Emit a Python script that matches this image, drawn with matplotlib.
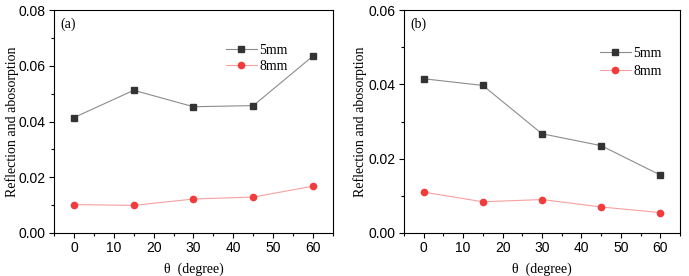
import matplotlib.pyplot as plt
from matplotlib.ticker import MultipleLocator

theta = [0, 15, 30, 45, 60]

a_5mm = [0.0414, 0.0512, 0.0453, 0.0457, 0.0635]
a_8mm = [0.0102, 0.0099, 0.0122, 0.0129, 0.0168]

b_5mm = [0.0415, 0.0397, 0.0267, 0.0235, 0.0156]
b_8mm = [0.0110, 0.0084, 0.0090, 0.0070, 0.0055]

panels = [("(a)", a_5mm, a_8mm, 0.08, (0.607, 0.862), 0.25, -0.125),
          ("(b)", b_5mm, b_8mm, 0.06, (0.700, 0.845), 0.33, -0.134)]

fig = plt.figure(figsize=(6.89, 2.76), dpi=100)
boxes = [[54/689, 43/276, 279/689, 223/276],
         [404/689, 43/276, 276/689, 223/276]]

serif = "Liberation Serif"

for box, (tag, s5, s8, ymax, leg_xy, leg_sp, ylab_x) in zip(boxes, panels):
    ax = fig.add_axes(box)
    ax.plot(theta, s5, color="#8c8c8c", lw=0.8, marker="s", ms=4,
            mfc="#333333", mec="#333333", label="5mm")
    ax.plot(theta, s8, color="#f7a0a0", lw=0.8, marker="o", ms=4.5,
            mfc="#f03c3c", mec="#f03c3c", label="8mm")
    ax.set_xlim(-5, 65)
    ax.xaxis.set_major_locator(MultipleLocator(10))
    ax.xaxis.set_minor_locator(MultipleLocator(5))
    yt = [i * 0.02 for i in range(int(round(ymax / 0.02)) + 1)]
    ax.set_yticks(yt)
    ax.set_yticklabels(["%.2f" % v for v in yt])
    ax.yaxis.set_minor_locator(MultipleLocator(0.01))
    ax.set_ylim(0, ymax)
    ax.tick_params(which="major", direction="out", length=3.5, width=0.8,
                   labelsize=10, pad=2.5)
    ax.tick_params(which="minor", direction="out", length=2, width=0.8)
    for lab in ax.get_xticklabels() + ax.get_yticklabels():
        lab.set_fontfamily("Liberation Sans")
    for sp in ax.spines.values():
        sp.set_linewidth(0.8)
    ax.set_xlabel("\u03b8  (degree)", family=serif, fontsize=10, labelpad=5)
    ax.set_ylabel("Reflection and abosorption", family=serif, fontsize=10)
    ax.yaxis.set_label_coords(ylab_x, 0.5)
    ax.text(0.022, 0.965, tag, transform=ax.transAxes, family=serif,
            fontsize=10, va="top")
    ax.legend(loc="upper left", bbox_to_anchor=leg_xy, frameon=False,
              prop={"family": serif, "size": 10},
              handlelength=2.2, handletextpad=0.2, labelspacing=leg_sp,
              borderpad=0.2, borderaxespad=0)

fig.savefig("out.png", dpi=100)
